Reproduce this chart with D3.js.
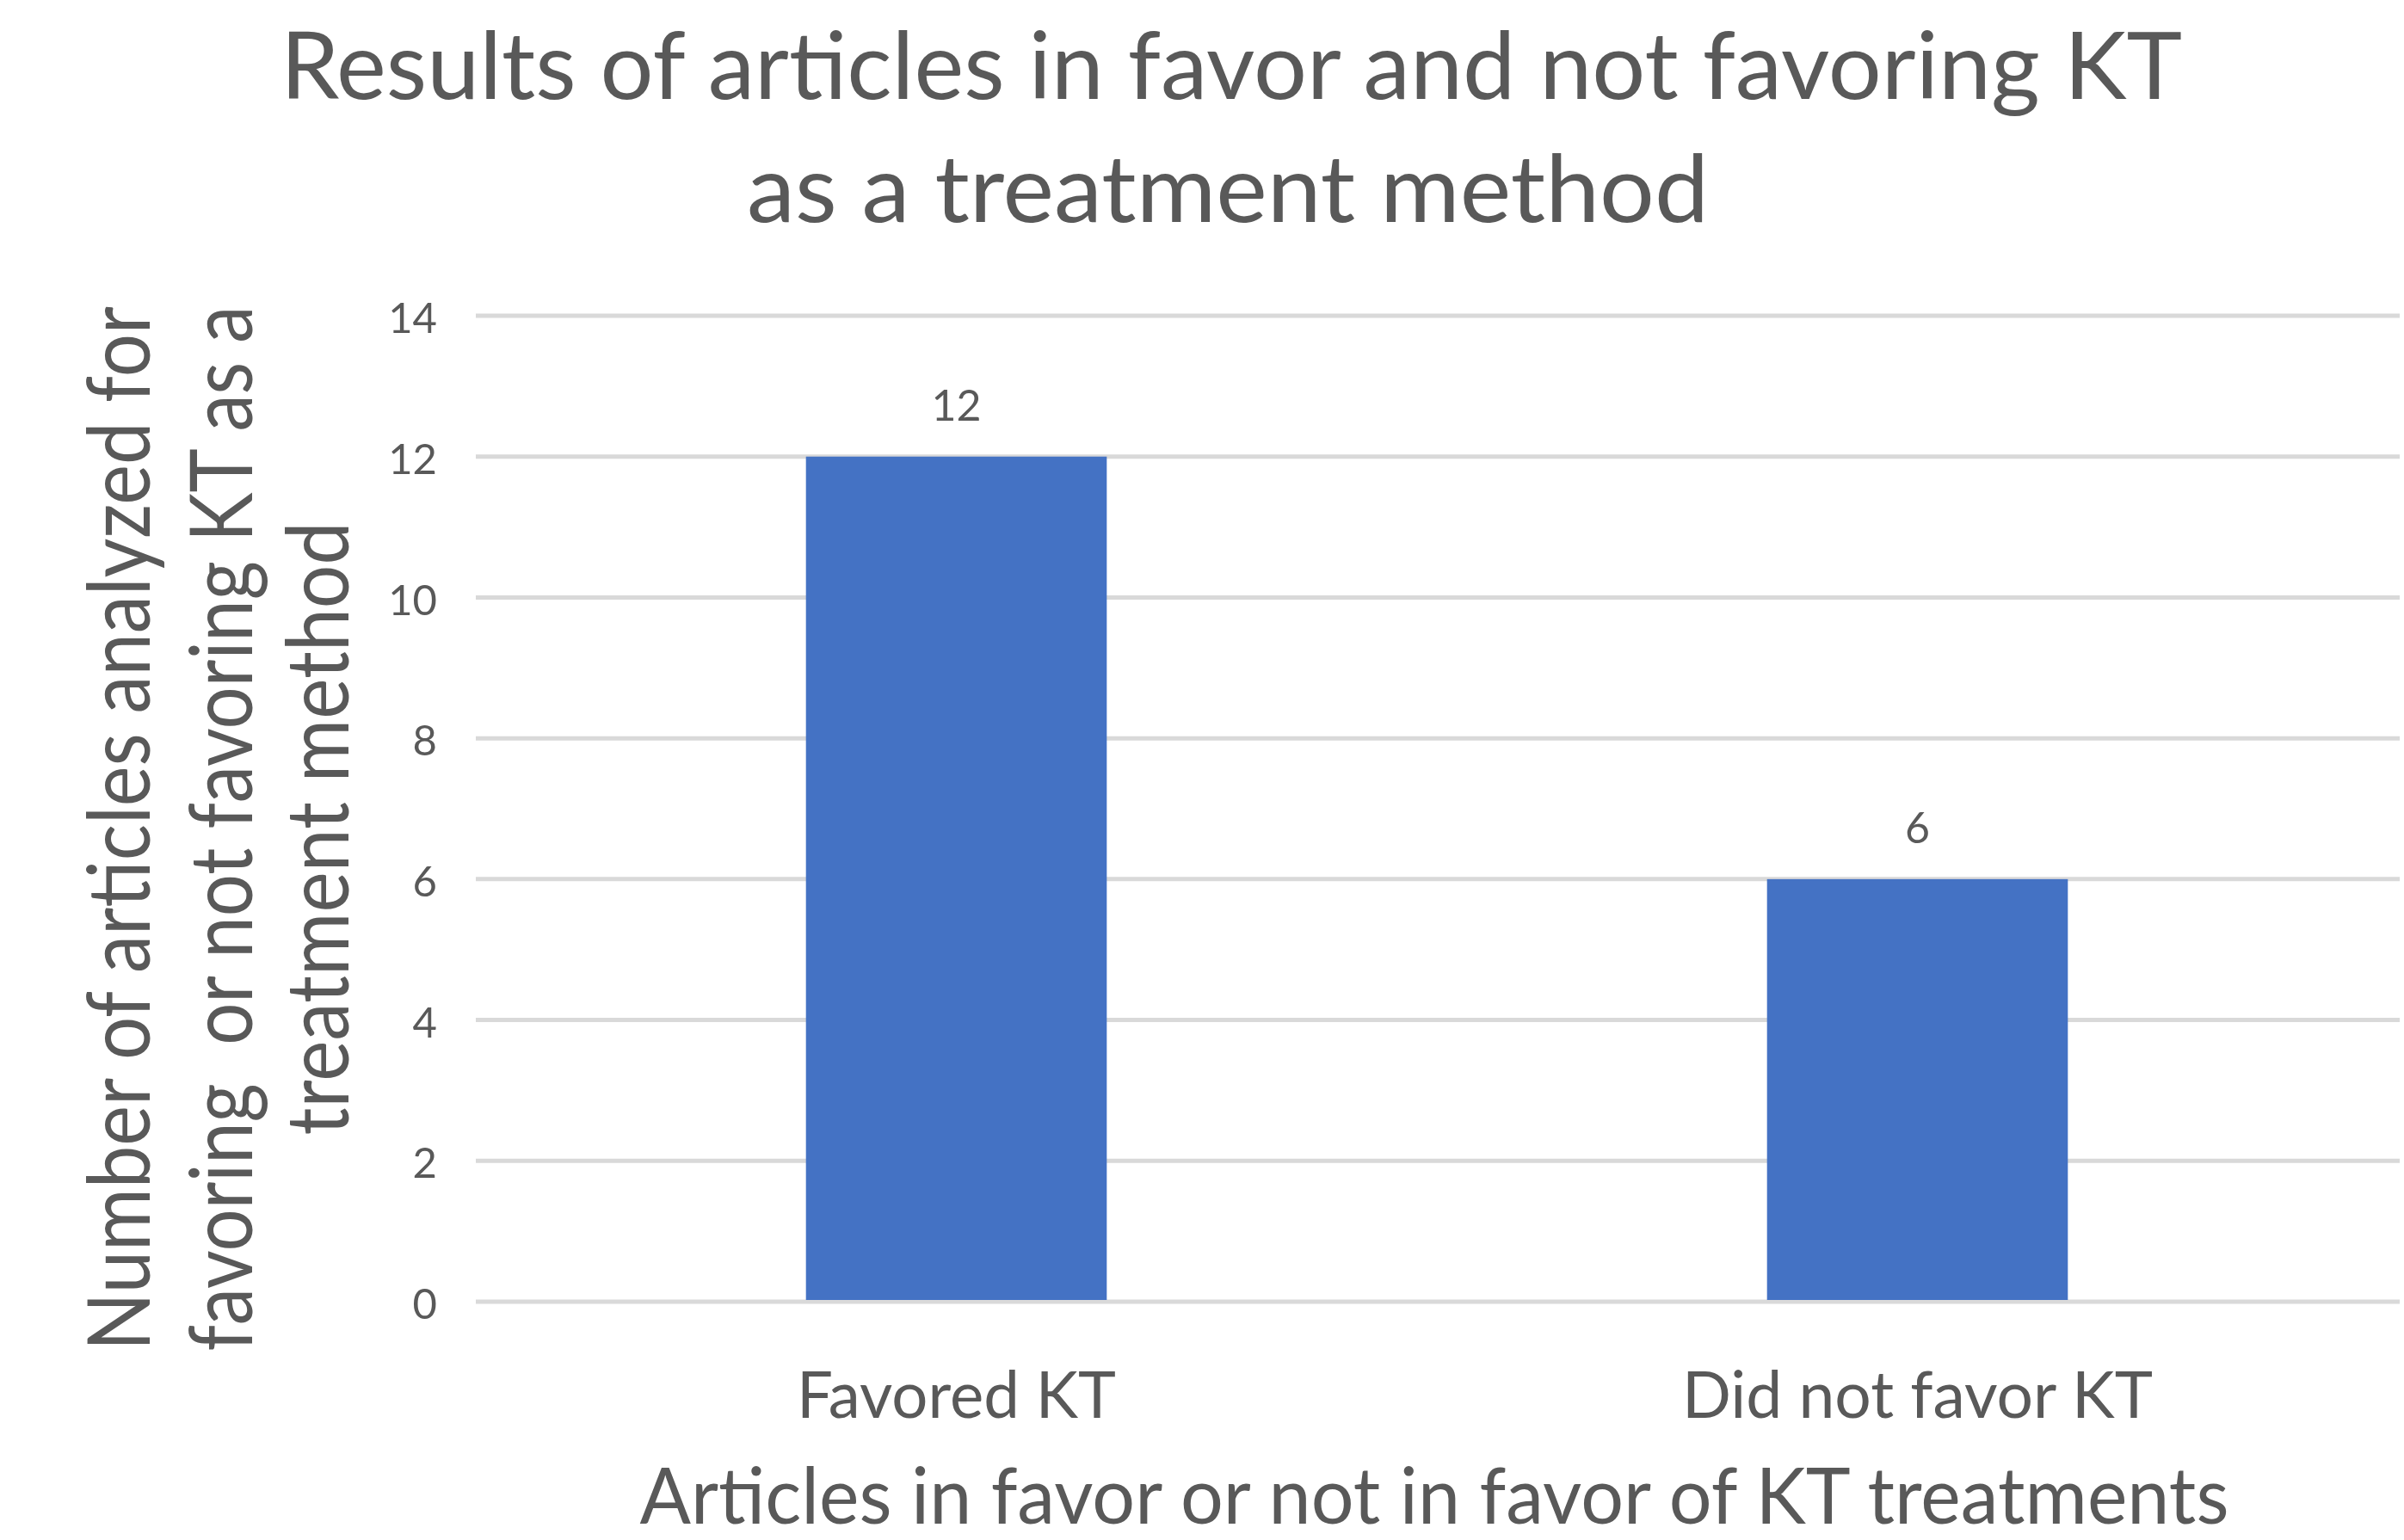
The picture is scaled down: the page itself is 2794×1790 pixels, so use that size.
<!DOCTYPE html>
<html>
<head>
<meta charset="utf-8">
<script src="https://cdn.jsdelivr.net/npm/d3@7"></script>
<style>
  html, body { margin: 0; padding: 0; background: #ffffff; }
  svg { display: block; }
  text { font-family: Lato, "Open Sans", "Noto Sans", sans-serif; fill: #595959; }
</style>
</head>
<body>
<script>
// Article counts by conclusion about KT as a treatment
const categories = ["Favored KT", "Did not favor KT"];
const articleCounts = [12, 6];
const yTicks = [0, 2, 4, 6, 8, 10, 12, 14];

const titleLines = [
  "Results of articles in favor and not favoring KT",
  "as a treatment method"
];
const yTitleLines = [
  "Number of articles analyzed for",
  "favoring  or not favoring KT as a",
  "treatment method"
];
const xTitle = "Articles in favor or not in favor of KT treatments";

const W = 2794, H = 1790;
const plot = { left: 553, right: 2787, top: 367, bottom: 1513 };

const svg = d3.select("body").append("svg")
  .attr("width", W).attr("height", H);

const x = d3.scaleBand()
  .domain(categories)
  .range([plot.left, plot.right])
  .paddingInner(0.687)
  .paddingOuter(0.3435);

const y = d3.scaleLinear()
  .domain([0, 14])
  .range([plot.bottom, plot.top]);

// horizontal gridlines
svg.append("g")
  .selectAll("line")
  .data(yTicks)
  .join("line")
  .attr("x1", plot.left).attr("x2", plot.right + 2)
  .attr("y1", d => y(d)).attr("y2", d => y(d))
  .attr("stroke", "#d9d9d9")
  .attr("stroke-width", 5);

// y-axis tick labels
const yAxis = d3.axisLeft(y).tickValues(yTicks).tickSize(0).tickPadding(0);
const yg = svg.append("g")
  .attr("transform", `translate(508,4)`)
  .call(yAxis);
yg.select(".domain").remove();
yg.selectAll("text")
  .attr("font-size", 49)
  .attr("font-family", "Lato, 'Open Sans', sans-serif")
  .attr("fill", "#595959");

// bars
svg.append("g")
  .selectAll("rect")
  .data(categories)
  .join("rect")
  .attr("x", d => x(d))
  .attr("width", x.bandwidth())
  .attr("y", (d, i) => y(articleCounts[i]))
  .attr("height", (d, i) => y(0) - y(articleCounts[i]) - 2)
  .attr("fill", "#4472c4");

// value labels above bars
svg.append("g")
  .selectAll("text")
  .data(categories)
  .join("text")
  .attr("x", d => x(d) + x.bandwidth() / 2)
  .attr("y", (d, i) => y(articleCounts[i]) - 42)
  .attr("text-anchor", "middle")
  .attr("font-size", 50)
  .text((d, i) => articleCounts[i]);

// category labels
const catWidths = { "Favored KT": 371, "Did not favor KT": 547 };
svg.append("g")
  .selectAll("text")
  .data(categories)
  .join("text")
  .attr("x", d => x(d) + x.bandwidth() / 2)
  .attr("y", 1648)
  .attr("text-anchor", "middle")
  .attr("font-size", 75)
  .attr("textLength", d => catWidths[d])
  .attr("lengthAdjust", "spacingAndGlyphs")
  .text(d => d);

// chart title
const titleSpec = [
  { y: 115, width: 2210, cx: 1431 },
  { y: 258, width: 1118, cx: 1427 }
];
svg.append("g")
  .selectAll("text")
  .data(titleLines)
  .join("text")
  .attr("x", (d, i) => titleSpec[i].cx)
  .attr("y", (d, i) => titleSpec[i].y)
  .attr("text-anchor", "middle")
  .attr("font-size", 109)
  .attr("textLength", (d, i) => titleSpec[i].width)
  .attr("lengthAdjust", "spacingAndGlyphs")
  .text(d => d);

// x-axis title
svg.append("text")
  .attr("x", 1667)
  .attr("y", 1771)
  .attr("text-anchor", "middle")
  .attr("font-size", 92)
  .attr("textLength", 1847)
  .attr("lengthAdjust", "spacingAndGlyphs")
  .text(xTitle);

// y-axis title (three rotated lines)
const yTitleSpec = [
  { bx: 174, width: 1214 },
  { bx: 293, width: 1215 },
  { bx: 405, width: 713 }
];
svg.append("g")
  .selectAll("text")
  .data(yTitleLines)
  .join("text")
  .attr("transform", (d, i) => `translate(${yTitleSpec[i].bx},963) rotate(-90)`)
  .attr("text-anchor", "middle")
  .attr("font-size", 100)
  .style("white-space", "pre")
  .attr("textLength", (d, i) => yTitleSpec[i].width)
  .attr("lengthAdjust", "spacingAndGlyphs")
  .text(d => d);
</script>
</body>
</html>
